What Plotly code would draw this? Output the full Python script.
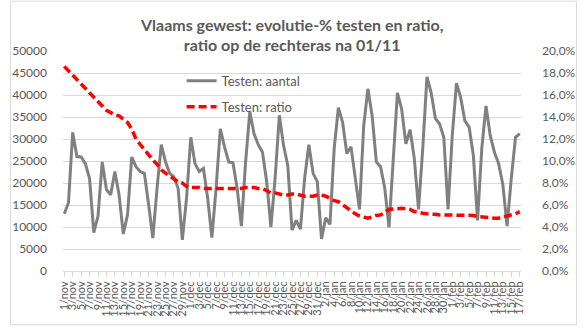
import plotly.graph_objects as go

months = [("nov", 30), ("dec", 31), ("jan", 31), ("feb", 17)]
dagen = [f"{d}/{m}" for m, n in months for d in range(1, n + 1)]

aantal = [13000, 15500, 31500, 26000, 25900, 24400, 21000, 8700, 12500, 24800,
          18500, 17300, 22600, 17300, 8400, 12800, 25900, 23700, 22600, 22200,
          15100, 7500, 18800, 28700, 24800, 22200, 21400, 18800, 7100, 16600,
          30400, 24400, 22600, 23300, 16600, 7600, 18800, 32300, 28200, 24800,
          24600, 18800, 10200, 24800, 36200, 31200, 28700, 27000, 20300, 10000,
          21100, 35400, 28500, 24000, 9300, 11500, 9500, 21100, 28700, 22200,
          20300, 7300, 12100, 10600, 27800, 37100, 33800, 26700, 28200, 21100,
          14000, 33000, 41400, 35300, 24800, 23700, 18800, 9900, 24000, 40500,
          36800, 28900, 32100, 25600, 14000, 27800, 44100, 40500, 34700, 33400,
          30400, 14000, 30800, 42700, 39400, 34100, 32700, 26300, 11500, 27800,
          37500, 30800, 27000, 24400, 19600, 10200, 21100, 30400, 31200]

ratio_pct = [18.6, 18.2, 17.8, 17.3, 16.9, 16.6, 16.2, 15.7, 15.3, 14.9,
             14.6, 14.4, 14.2, 14.1, 13.8, 13.5, 12.9, 12.0, 11.5, 11.0,
             10.5, 10.1, 9.7, 9.2, 8.9, 8.6, 8.3, 8.1, 8.0, 7.7,
             7.6, 7.6, 7.6, 7.5, 7.5, 7.5, 7.5, 7.5, 7.5, 7.5,
             7.5, 7.5, 7.5, 7.6, 7.6, 7.6, 7.5, 7.5, 7.3, 7.1,
             7.1, 7.0, 6.9, 6.9, 7.0, 7.0, 6.9, 6.8, 6.8, 6.8,
             6.9, 6.9, 6.8, 6.6, 6.4, 6.3, 6.0, 5.7, 5.5, 5.2,
             5.0, 4.9, 4.8, 4.9, 5.05, 5.1, 5.3, 5.6, 5.65, 5.7,
             5.7, 5.65, 5.6, 5.4, 5.3, 5.25, 5.2, 5.2, 5.15, 5.1,
             5.1, 5.1, 5.1, 5.1, 5.1, 5.1, 5.1, 5.05, 4.95, 4.9,
             4.85, 4.8, 4.8, 4.8, 4.9, 5.0, 5.1, 5.2, 5.4]
ratio = [v / 100 for v in ratio_pct]

tick_labels = dagen[::2]

txt = "#595959"
grid = "#d9d9d9"
font = "Lato, 'Open Sans', sans-serif"

fig = go.Figure()
fig.add_trace(go.Scatter(x=dagen, y=aantal, name="Testen: aantal", mode="lines",
                         line=dict(color="#808080", width=3), legendgroup="a"))
fig.add_trace(go.Scatter(x=dagen, y=ratio, name="Testen: ratio", mode="lines",
                         line=dict(color="#ff0000", width=3.5, dash="8px,4px"),
                         yaxis="y2", legendgroup="b"))

W, H = 588, 329
L, R, T, B = 55, 58, 51, 55
pw, ph = W - L - R, H - T - B

fig.update_layout(
    width=W, height=H,
    margin=dict(l=L, r=R, t=T, b=B),
    paper_bgcolor="white", plot_bgcolor="white",
    separators=",.",
    font=dict(family=font, color=txt, size=12),
    title=dict(text="Vlaams gewest: evolutie-% testen en ratio,<br>ratio op de rechteras na 01/11",
               x=0.497, xanchor="center", y=0.907, yanchor="top",
               font=dict(family=font, size=16, color=txt, weight="bold")),
    showlegend=True,
    legend=dict(x=(178 - L) / pw, y=1 - (66 - T) / ph, xanchor="left", yanchor="top",
                bgcolor="rgba(0,0,0,0)", font=dict(size=13, color=txt),
                traceorder="grouped", tracegroupgap=6),
    xaxis=dict(type="category", range=[-0.3, len(dagen) - 0.7],
               tickmode="array", tickvals=tick_labels, ticktext=tick_labels,
               tickangle=-90, tickfont=dict(size=11, color=txt),
               showgrid=False, showline=True, linecolor=grid, linewidth=1,
               ticks="outside", ticklen=5, tickcolor=grid, zeroline=False),
    yaxis=dict(range=[0, 50000], dtick=5000, tickformat="d",
               showgrid=True, gridcolor=grid, gridwidth=1, zeroline=False,
               showline=False, ticks="", ticklabelstandoff=15,
               tickfont=dict(size=12, color=txt)),
    yaxis2=dict(range=[0, 0.2], dtick=0.02, tickformat=".1%", overlaying="y",
                side="right", showgrid=False, zeroline=False, showline=False,
                ticks="", ticklabelstandoff=20, tickfont=dict(size=12, color=txt)),
    shapes=[dict(type="rect", xref="paper", yref="paper",
                 x0=(0.5 - L) / pw, x1=(W - 0.5 - L) / pw,
                 y0=(H - B - (H - 0.5)) / ph, y1=(H - B - 0.5) / ph,
                 line=dict(color=grid, width=1), fillcolor="rgba(0,0,0,0)", layer="below")],
)

fig.write_html("out.html")
